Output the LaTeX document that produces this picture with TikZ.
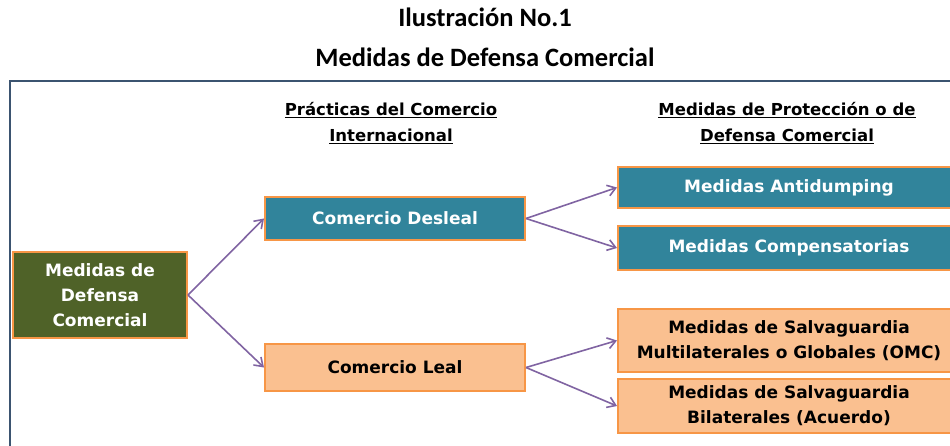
\documentclass[tikz,border=0pt]{standalone}
\usepackage{fontspec}
\setmainfont{Carlito}
\newfontfamily\boxfont{DejaVu Sans}
\usetikzlibrary{arrows.meta}
\definecolor{frameblue}{HTML}{3B5470}
\definecolor{olive}{HTML}{4F6228}
\definecolor{teal}{HTML}{31849B}
\definecolor{peach}{HTML}{FAC090}
\definecolor{orng}{HTML}{F79646}
\definecolor{purp}{HTML}{8064A2}
\tikzset{
  base/.style={draw=orng, line width=2pt, inner sep=0pt, align=center, font=\boxfont\bfseries\fontsize{17}{25}\selectfont},
  tealbox/.style={base, fill=teal, text=white},
  peachbox/.style={base, fill=peach, text=black},
  olivebox/.style={base, fill=olive, text=white},
  conn/.style={draw=purp, line width=1.6pt, -{Straight Barb[length=8pt,width=11pt,line width=1.6pt]}},
  hdr/.style={align=center, font=\boxfont\bfseries\fontsize{16.5}{26}\selectfont},
}
\begin{document}
\begin{tikzpicture}[x=1pt,y=-1pt]
\useasboundingbox (0,0) rectangle (950,446);
\clip (0,0) rectangle (950,446);
\node[font=\bfseries\fontsize{26.5}{40}\selectfont, align=center] (title) at (485,37) {Ilustración No.1\\Medidas de Defensa Comercial};
\draw[frameblue, line width=2pt] (10,460) -- (10,81) -- (960,81);
\node[hdr] (h1) at (391,123) {\underline{Prácticas del Comercio}\\\underline{Internacional}};
\node[hdr] (h2) at (787,123) {\underline{Medidas de Protección o de}\\\underline{Defensa Comercial}};
\node[olivebox, minimum width=174pt, minimum height=86pt] (mdc) at (100,295) {Medidas de\\Defensa\\Comercial};
\node[tealbox, minimum width=260pt, minimum height=43pt] (cd) at (395,218.5) {Comercio Desleal};
\node[peachbox, minimum width=260pt, minimum height=47pt] (cl) at (395,367.5) {Comercio Leal};
\node[tealbox, minimum width=360pt, minimum height=41pt, anchor=west] (ma) at (617,187.5) {\hspace*{-18pt}Medidas Antidumping};
\node[tealbox, minimum width=360pt, minimum height=44pt, anchor=west] (mc) at (617,248) {\hspace*{-18pt}Medidas Compensatorias};
\node[peachbox, minimum width=360pt, minimum height=63pt, anchor=west] (ms) at (617,340.5) {\hspace*{-18pt}\begin{tabular}{@{}c@{}}Medidas de Salvaguardia\\Multilaterales o Globales (OMC)\end{tabular}};
\node[peachbox, minimum width=360pt, minimum height=54pt, anchor=west] (mb) at (617,406) {\hspace*{-18pt}\begin{tabular}{@{}c@{}}Medidas de Salvaguardia\\Bilaterales (Acuerdo)\end{tabular}};
\draw[conn] (mdc.east) -- (cd.west);
\draw[conn] (mdc.east) -- (cl.west);
\draw[conn] (cd.east) -- (ma.west);
\draw[conn] (cd.east) -- (mc.west);
\draw[conn] (cl.east) -- (ms.west);
\draw[conn] (cl.east) -- (mb.west);
\end{tikzpicture}
\end{document}
